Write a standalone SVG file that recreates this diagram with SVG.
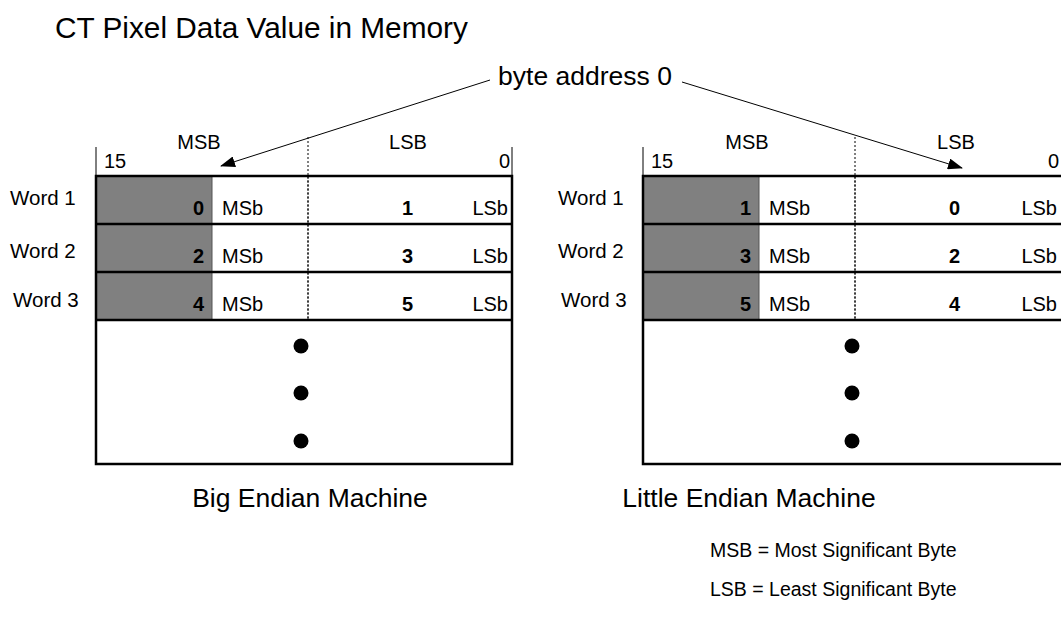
<svg xmlns="http://www.w3.org/2000/svg" width="1061" height="629" viewBox="0 0 1061 629">
<defs>
<marker id="ah" markerWidth="15" markerHeight="11" refX="14" refY="5.5" orient="auto" markerUnits="userSpaceOnUse">
<path d="M0,0 L15,5.5 L0,11 Z" fill="#000"/>
</marker>
<style>
text{font-family:"Liberation Sans",Arial,sans-serif;fill:#000}
.t20{font-size:20px}
.w{font-size:20.5px}
.num{font-size:20px;font-weight:bold;text-anchor:end}
.big{font-size:26.5px}
.gray{fill:#808080;stroke:#555;stroke-width:1}
.rowline{stroke:#000;stroke-width:2.5}
.tick{stroke:#000;stroke-width:1}
.dot{stroke:#000;stroke-width:1;stroke-dasharray:2,2}
.conn{stroke:#000;stroke-width:1;fill:none}
</style>
</defs>
<rect width="1061" height="629" fill="#fff"/>
<text x="55" y="38" style="font-size:29.8px">CT Pixel Data Value in Memory</text>

<g id="big-endian">
<line class="tick" x1="96" y1="147" x2="96" y2="176"/>
<line class="tick" x1="512" y1="147" x2="512" y2="176"/>
<line class="dot" x1="308" y1="137" x2="308" y2="320"/>
<text class="t20" x="199" y="149" text-anchor="middle">MSB</text>
<text class="t20" x="408" y="149" text-anchor="middle">LSB</text>
<text class="t20" x="104" y="168">15</text>
<text class="t20" x="510" y="168" text-anchor="end">0</text>
<rect class="gray" x="96" y="176" width="116" height="144"/>
<rect x="96" y="176" width="416" height="288" fill="none" stroke="#000" stroke-width="2.5"/>
<line class="rowline" x1="96" y1="224" x2="512" y2="224"/>
<line class="rowline" x1="96" y1="272" x2="512" y2="272"/>
<line class="rowline" x1="96" y1="320" x2="512" y2="320"/>
<line class="dot" x1="308" y1="176" x2="308" y2="320"/>
<text class="w" x="10" y="205">Word 1</text>
<text class="w" x="10" y="258">Word 2</text>
<text class="w" x="13" y="307">Word 3</text>
<text class="num" x="204" y="215">0</text>
<text class="num" x="204" y="263">2</text>
<text class="num" x="204" y="311">4</text>
<text class="t20" x="222" y="215">MSb</text>
<text class="t20" x="222" y="263">MSb</text>
<text class="t20" x="222" y="311">MSb</text>
<text class="num" x="413" y="215">1</text>
<text class="num" x="413" y="263">3</text>
<text class="num" x="413" y="311">5</text>
<text class="t20" x="508" y="215" text-anchor="end">LSb</text>
<text class="t20" x="508" y="263" text-anchor="end">LSb</text>
<text class="t20" x="508" y="311" text-anchor="end">LSb</text>
<circle cx="301" cy="346" r="7.5"/>
<circle cx="301" cy="393" r="7.5"/>
<circle cx="301" cy="441" r="7.5"/>
<text class="big" x="310" y="507" text-anchor="middle">Big Endian Machine</text>
</g>

<g id="little-endian">
<line class="tick" x1="643" y1="147" x2="643" y2="176"/>
<line class="dot" x1="855" y1="137" x2="855" y2="320"/>
<text class="t20" x="747" y="149" text-anchor="middle">MSB</text>
<text class="t20" x="956" y="149" text-anchor="middle">LSB</text>
<text class="t20" x="651" y="168">15</text>
<text class="t20" x="1059" y="168" text-anchor="end">0</text>
<rect class="gray" x="643" y="176" width="116" height="144"/>
<rect x="643" y="176" width="422" height="288" fill="none" stroke="#000" stroke-width="2.5"/>
<line class="rowline" x1="643" y1="224" x2="1065" y2="224"/>
<line class="rowline" x1="643" y1="272" x2="1065" y2="272"/>
<line class="rowline" x1="643" y1="320" x2="1065" y2="320"/>
<line class="dot" x1="855" y1="176" x2="855" y2="320"/>
<text class="w" x="558" y="205">Word 1</text>
<text class="w" x="558" y="258">Word 2</text>
<text class="w" x="561" y="307">Word 3</text>
<text class="num" x="751" y="215">1</text>
<text class="num" x="751" y="263">3</text>
<text class="num" x="751" y="311">5</text>
<text class="t20" x="769" y="215">MSb</text>
<text class="t20" x="769" y="263">MSb</text>
<text class="t20" x="769" y="311">MSb</text>
<text class="num" x="960" y="215">0</text>
<text class="num" x="960" y="263">2</text>
<text class="num" x="960" y="311">4</text>
<text class="t20" x="1057" y="215" text-anchor="end">LSb</text>
<text class="t20" x="1057" y="263" text-anchor="end">LSb</text>
<text class="t20" x="1057" y="311" text-anchor="end">LSb</text>
<circle cx="852" cy="346" r="7.5"/>
<circle cx="852" cy="393" r="7.5"/>
<circle cx="852" cy="441" r="7.5"/>
<text class="big" x="749" y="507" text-anchor="middle">Little Endian Machine</text>
</g>

<g id="byte-address">
<text class="big" x="585" y="85" text-anchor="middle">byte address 0</text>
</g>

<g id="connectors">
<line class="conn" x1="490" y1="80" x2="221" y2="166" marker-end="url(#ah)"/>
<line class="conn" x1="682" y1="82" x2="962" y2="168" marker-end="url(#ah)"/>
</g>

<g id="legend">
<text x="710" y="557" style="font-size:19.5px">MSB = Most Significant Byte</text>
<text x="710" y="596" style="font-size:19.5px">LSB = Least Significant Byte</text>
</g>
</svg>
